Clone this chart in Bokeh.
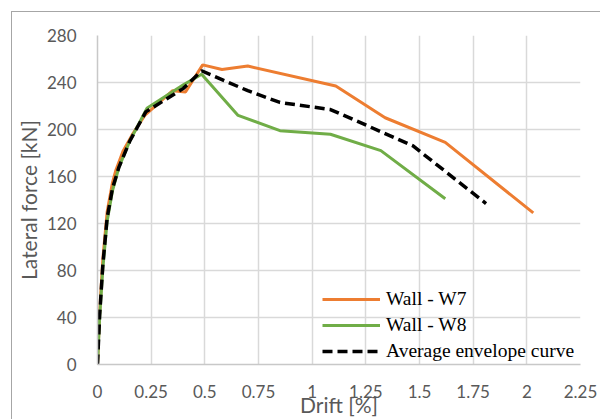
from bokeh.plotting import figure
from bokeh.models import FixedTicker, Legend, LegendItem, InlineStyleSheet
from bokeh.embed import file_html
from bokeh.resources import INLINE

# Data
w7_drift = [0, 0.01, 0.025, 0.045, 0.07, 0.085, 0.12, 0.16, 0.22, 0.35, 0.41, 0.49, 0.58, 0.70, 1.11, 1.34, 1.62, 2.03]
w7_force = [0, 45, 90, 130, 155, 165, 182, 195, 212, 233, 232, 255, 251, 254, 237, 210, 189, 129]

w8_drift = [0, 0.01, 0.025, 0.045, 0.07, 0.10, 0.15, 0.23, 0.40, 0.485, 0.655, 0.85, 1.085, 1.32, 1.62]
w8_force = [0, 40, 82, 122, 148, 168, 190, 218, 238, 247, 212, 199, 196, 182, 141]

avg_drift = [0, 0.01, 0.025, 0.045, 0.07, 0.10, 0.15, 0.225, 0.40, 0.485, 0.70, 0.85, 1.085, 1.26, 1.47, 1.81]
avg_force = [0, 42, 85, 125, 150, 168, 190, 215, 235, 250, 233, 223, 217, 203, 186, 137]

x_ticks = [0, 0.25, 0.5, 0.75, 1, 1.25, 1.5, 1.75, 2, 2.25]
x_tick_labels = ["0", "0.25", "0.5", "0.75", "1", "1.25", "1.5", "1.75", "2", "2.25"]
y_ticks = [0, 40, 80, 120, 160, 200, 240, 280]

FONT = "Lato"
GRAY = "#595959"

frame_css = InlineStyleSheet(css=":host { box-shadow: inset 11px 11px 0 0 white, inset 12px 12px 0 0 #a6a6a6; }")

p = figure(width=600, height=419, output_backend="svg", toolbar_location=None,
           x_range=(0, 2.25), y_range=(0, 280),
           min_border_left=97, min_border_right=20, min_border_top=35, min_border_bottom=53,
           stylesheets=[frame_css])
p.outline_line_color = None
p.background_fill_color = "white"
p.border_fill_alpha = 0

p.xaxis.ticker = FixedTicker(ticks=x_ticks)
p.xaxis.major_label_overrides = {t: l for t, l in zip(x_ticks, x_tick_labels)}
p.yaxis.ticker = FixedTicker(ticks=y_ticks)

for ax in (p.xaxis, p.yaxis):
    ax.major_tick_line_color = None
    ax.minor_tick_line_color = None
    ax.axis_line_color = "#c8c8c8"
    ax.axis_line_width = 1.5
    ax.major_label_text_font = FONT
    ax.major_label_text_font_size = "17px"
    ax.major_label_text_color = GRAY
    ax.axis_label_text_font = FONT
    ax.axis_label_text_font_size = "21px"
    ax.axis_label_text_font_style = "normal"
    ax.axis_label_text_color = GRAY

p.xaxis.major_label_standoff = 14
p.yaxis.major_label_standoff = 15
p.xaxis.axis_label = "Drift [%]"
p.yaxis.axis_label = "Lateral force [kN]"
p.xaxis.axis_label_standoff = -9
p.yaxis.axis_label_standoff = 3

p.xgrid.ticker = FixedTicker(ticks=x_ticks)
p.ygrid.ticker = FixedTicker(ticks=y_ticks)
p.grid.grid_line_color = "#d9d9d9"
p.grid.grid_line_width = 1.5

r7 = p.line(w7_drift, w7_force, line_color="#ED7D31", line_width=3)
r8 = p.line(w8_drift, w8_force, line_color="#70AD47", line_width=3)
ra = p.line(avg_drift, avg_force, line_color="black", line_width=3.5, line_dash="10 5")

legend = Legend(items=[LegendItem(label="Wall - W7", renderers=[r7]),
                       LegendItem(label="Wall - W8", renderers=[r8]),
                       LegendItem(label="Average envelope curve", renderers=[ra])],
                location=(225, 2))
legend.background_fill_alpha = 0
legend.border_line_alpha = 0
legend.padding = 0
legend.margin = 0
legend.spacing = 4
legend.glyph_width = 58
legend.glyph_height = 20
legend.label_height = 20
legend.label_standoff = 6
legend.label_text_font = "Liberation Serif"
legend.label_text_font_size = "19.5px"
legend.label_text_color = "black"
p.add_layout(legend, "center")

open("out.html", "w").write(file_html(p, INLINE))
